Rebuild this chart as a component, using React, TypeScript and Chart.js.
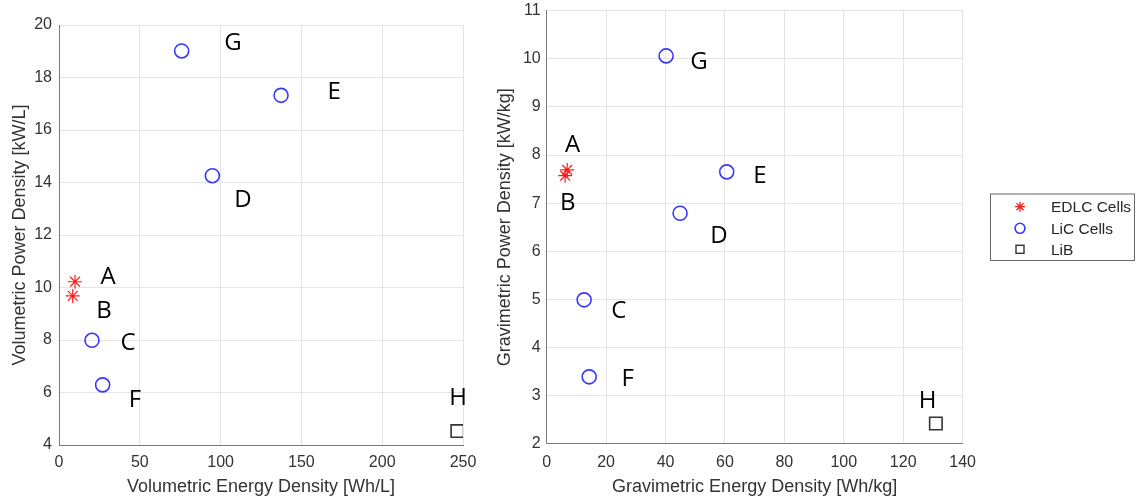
import React, { useEffect, useRef } from 'react';
import { Chart, registerables } from 'chart.js';
Chart.register(...registerables);

// ---------- DATA ----------
const pointNames = ['A', 'B', 'C', 'D', 'E', 'F', 'G', 'H'];
const seriesNames = ['EDLC Cells', 'LiC Cells', 'LiB'];

// Volumetric chart (Wh/L, kW/L)
const volEdlcEnergy = [9.9, 8.5];            // A, B
const volEdlcPower = [10.22, 9.68];
const volLicEnergy = [20.4, 94.9, 137.4, 27.0, 75.9]; // C, D, E, F, G
const volLicPower = [7.99, 14.26, 17.32, 6.29, 19.01];
const volLibEnergy = [246.5];                 // H
const volLibPower = [4.53];
const volLabelX = [30.3, 27.8, 42.7, 113.9, 170.2, 47.0, 107.7, 246.9];
const volLabelY = [10.4, 9.1, 7.89, 13.33, 17.45, 5.71, 19.31, 5.79];

// Gravimetric chart (Wh/kg, kW/kg)
const gravEdlcEnergy = [6.9, 6.2];
const gravEdlcPower = [7.69, 7.57];
const gravLicEnergy = [12.6, 44.9, 60.6, 14.3, 40.2];
const gravLicPower = [4.99, 6.79, 7.65, 3.39, 10.06];
const gravLibEnergy = [131.0];
const gravLibPower = [2.42];
const gravLabelX = [8.75, 7.07, 24.3, 58.0, 71.8, 27.3, 51.3, 128.2];
const gravLabelY = [8.21, 7.0, 4.76, 6.32, 7.56, 3.34, 9.93, 2.88];

// Axis settings
const volXTitle = 'Volumetric Energy Density [Wh/L]';
const volYTitle = 'Volumetric Power Density [kW/L]';
const gravXTitle = 'Gravimetric Energy Density [Wh/kg]';
const gravYTitle = 'Gravimetric Power Density [kW/kg]';

const FONT = "'Liberation Sans', Arial, sans-serif";
const RED = '#ff1a1a';
const BLUE = '#3838ff';
const DARK = '#333333';

const zip = (xs: number[], ys: number[]) => xs.map((x, i) => ({ x, y: ys[i] }));

function makeDatasets(eE: number[], eP: number[], cE: number[], cP: number[], bE: number[], bP: number[]) {
  return [
    {
      label: seriesNames[0], data: zip(eE, eP), pointStyle: 'star', pointRadius: 7,
      borderColor: RED, backgroundColor: RED, borderWidth: 1.2,
    },
    {
      label: seriesNames[1], data: zip(cE, cP), pointStyle: 'circle', pointRadius: 7,
      borderColor: BLUE, backgroundColor: 'rgba(0,0,0,0)', borderWidth: 1.6,
    },
    {
      label: seriesNames[2], data: zip(bE, bP), pointStyle: 'rect', pointRadius: 8.8,
      borderColor: DARK, backgroundColor: 'rgba(0,0,0,0)', borderWidth: 1.6,
    },
  ];
}

function labelPlugin(lx: number[], ly: number[]) {
  return {
    id: 'letters',
    afterDatasetsDraw(chart: any) {
      const { ctx, scales } = chart;
      ctx.save();
      ctx.font = "24px 'Open Sans', sans-serif";
      ctx.fillStyle = '#000';
      ctx.textAlign = 'center';
      ctx.textBaseline = 'middle';
      pointNames.forEach((n, i) => {
        ctx.fillText(n, scales.x.getPixelForValue(lx[i]), scales.y.getPixelForValue(ly[i]));
      });
      ctx.restore();
    },
  };
}

const legendPlugin = {
  id: 'boxLegend',
  afterDraw(chart: any) {
    const { ctx } = chart;
    const x0 = 510, y0 = 193.5, w = 144, h = 66.5;
    ctx.save();
    ctx.fillStyle = '#fff';
    ctx.fillRect(x0, y0, w, h);
    ctx.strokeStyle = '#666';
    ctx.lineWidth = 1;
    ctx.strokeRect(x0 + 0.5, y0 + 0.5, w, h);
    const mx = 540, tx = 571;
    const rows = [206.7, 228.3, 249.3];
    // star
    ctx.strokeStyle = RED; ctx.lineWidth = 1.3;
    const r = 5;
    ctx.beginPath();
    for (let k = 0; k < 4; k++) {
      const a = (k * Math.PI) / 4;
      ctx.moveTo(mx - r * Math.cos(a), rows[0] - r * Math.sin(a));
      ctx.lineTo(mx + r * Math.cos(a), rows[0] + r * Math.sin(a));
    }
    ctx.stroke();
    // circle
    ctx.strokeStyle = BLUE; ctx.lineWidth = 1.6;
    ctx.beginPath(); ctx.arc(mx, rows[1], 5, 0, Math.PI * 2); ctx.stroke();
    // square
    ctx.strokeStyle = DARK; ctx.lineWidth = 1.4;
    ctx.strokeRect(mx - 4, rows[2] - 4, 8, 8);
    ctx.fillStyle = '#262626';
    ctx.font = `15.5px ${FONT}`;
    ctx.textAlign = 'left';
    ctx.textBaseline = 'middle';
    seriesNames.forEach((s, i) => ctx.fillText(s, tx, rows[i] + 1));
    ctx.restore();
  },
};

function makeConfig(o: any): any {
  return {
    type: 'scatter',
    data: { datasets: o.datasets },
    options: {
      responsive: false,
      animation: false,
      devicePixelRatio: 1,
      layout: { padding: { left: 0, top: o.padTop, right: o.padRight, bottom: 0 } },
      plugins: { legend: { display: false }, tooltip: { enabled: false } },
      scales: {
        x: {
          type: 'linear', min: o.xMin, max: o.xMax,
          afterFit: (s: any) => { s.height = o.xH; s.paddingLeft = 0; s.paddingRight = 0; },
          ticks: { stepSize: o.xStep, color: DARK, font: { family: FONT, size: 16 }, padding: o.xTickPad, maxRotation: 0 },
          grid: { color: '#e4e4e4', lineWidth: 1, drawTicks: false },
          border: { display: true, color: '#7a7a7a', width: 1 },
          title: { display: true, text: o.xTitle, color: DARK, font: { family: FONT, size: 18 }, padding: { top: 0, bottom: 1.2 } },
        },
        y: {
          type: 'linear', min: o.yMin, max: o.yMax,
          afterFit: (s: any) => { s.width = o.yW; s.paddingTop = 0; s.paddingBottom = 0; },
          ticks: { stepSize: o.yStep, color: DARK, font: { family: FONT, size: 16 }, padding: o.yTickPad },
          grid: { color: '#e4e4e4', lineWidth: 1, drawTicks: false },
          border: { display: true, color: '#7a7a7a', width: 1 },
          title: { display: true, text: o.yTitle, color: DARK, font: { family: FONT, size: 18 }, padding: { top: o.yTitlePad, bottom: 0 } },
        },
      },
    },
    plugins: o.plugins,
  };
}

export default function App() {
  const c1 = useRef<HTMLCanvasElement>(null);
  const c2 = useRef<HTMLCanvasElement>(null);
  useEffect(() => {
    const ch1 = new Chart(c1.current!, makeConfig({
      datasets: makeDatasets(volEdlcEnergy, volEdlcPower, volLicEnergy, volLicPower, volLibEnergy, volLibPower),
      padTop: 25, padRight: 17, xH: 54, yW: 59,
      xMin: 0, xMax: 250, xStep: 50, yMin: 4, yMax: 20, yStep: 2,
      xTickPad: 8, yTickPad: 7, yTitlePad: 9.2,
      xTitle: volXTitle, yTitle: volYTitle,
      plugins: [labelPlugin(volLabelX, volLabelY)],
    }));
    const ch2 = new Chart(c2.current!, makeConfig({
      datasets: makeDatasets(gravEdlcEnergy, gravEdlcPower, gravLicEnergy, gravLicPower, gravLibEnergy, gravLibPower),
      padTop: 10.7, padRight: 176.4, xH: 55.3, yW: 66.7,
      xMin: 0, xMax: 140, xStep: 20, yMin: 2, yMax: 11, yStep: 1,
      xTickPad: 9, yTickPad: 6, yTitlePad: 14.2,
      xTitle: gravXTitle, yTitle: gravYTitle,
      plugins: [labelPlugin(gravLabelX, gravLabelY), legendPlugin],
    }));
    return () => { ch1.destroy(); ch2.destroy(); };
  }, []);
  return (
    <div style={{ position: 'fixed', left: 0, top: 0, width: 1139, height: 499, background: '#fff' }}>
      <canvas ref={c1} width={480} height={499} style={{ position: 'absolute', left: 0, top: 0 }} />
      <canvas ref={c2} width={659} height={499} style={{ position: 'absolute', left: 480, top: 0 }} />
    </div>
  );
}
